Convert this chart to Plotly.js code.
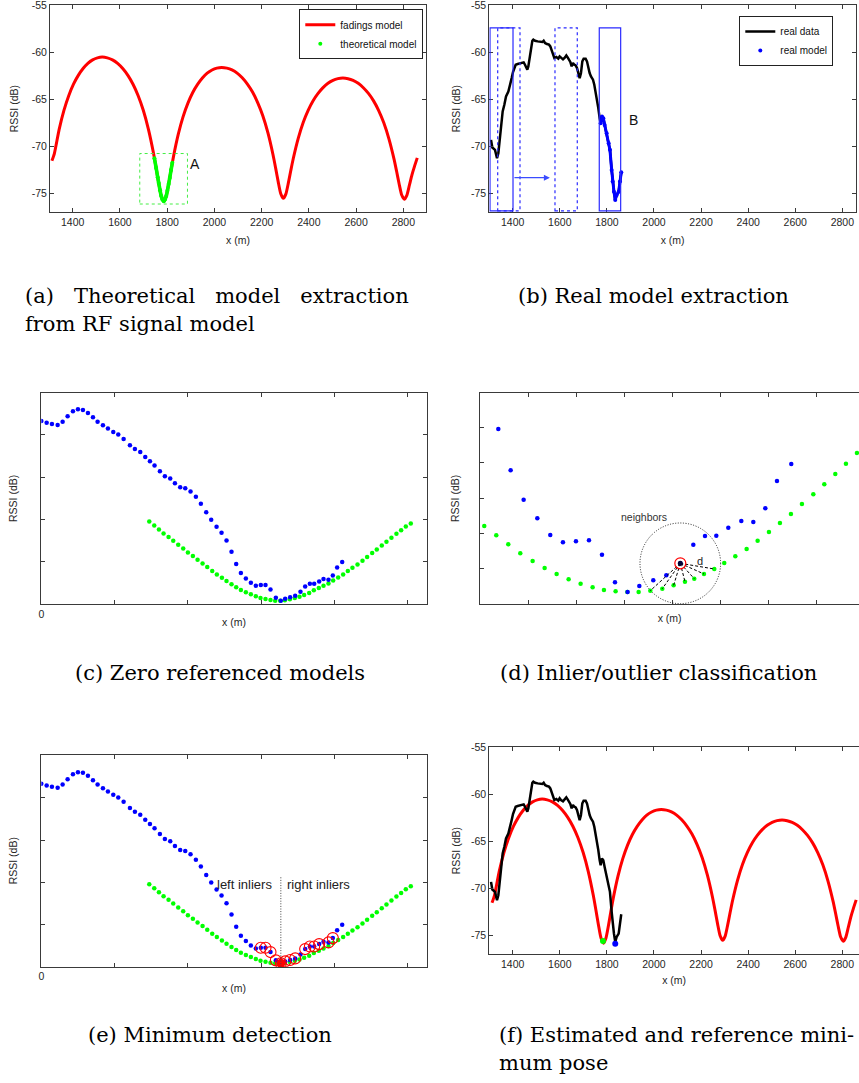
<!DOCTYPE html>
<html><head><meta charset="utf-8">
<script src="https://cdn.plot.ly/plotly-3.0.1.min.js"></script>
<style>html,body{margin:0;padding:0;background:#fff}#chart{width:859px;height:1083px}</style>
</head><body><div id="chart"></div>
<script>
// ---------- (a)/(f) fadings model (RF signal model) ----------
const fadingX = [1312,1322.5,1342.8,1363,1383.3,1403.5,1423.8,1444,1464.3,1484.5,1504.8,1525,1546.8,1568.5,1590.3,1612,1633.8,1655.5,1677.3,1699,1720.8,1742.5,1753.4,1764.3,1775.1,1786,1796.2,1806.4,1816.6,1826.8,1847.2,1867.6,1888,1908.4,1928.8,1949.2,1969.6,1990,2010.4,2031,2052.8,2074.5,2096.3,2118,2139.8,2161.5,2183.3,2205,2226.8,2248.5,2259.4,2270.3,2281.1,2292,2302.5,2313,2323.5,2334,2355,2376,2397,2418,2439,2460,2481,2502,2523,2544,2565.7,2587.3,2609,2630.7,2652.3,2674,2695.7,2717.3,2739,2760.7,2771.5,2782.3,2793.2,2804,2814.8,2825.7,2836.5,2847.3,2859];
const fadingY = [-71.5,-70.74,-68.17,-66.15,-64.6,-63.38,-62.44,-61.71,-61.16,-60.79,-60.58,-60.5,-60.58,-60.79,-61.16,-61.71,-62.44,-63.38,-64.6,-66.15,-68.17,-70.74,-72.27,-73.87,-75.26,-75.8,-75.25,-73.97,-72.48,-71.07,-68.69,-66.82,-65.39,-64.26,-63.4,-62.72,-62.21,-61.87,-61.67,-61.6,-61.67,-61.86,-62.2,-62.7,-63.37,-64.21,-65.33,-66.73,-68.56,-70.9,-72.29,-73.75,-75.01,-75.5,-75.05,-73.89,-72.55,-71.27,-69.13,-67.44,-66.15,-65.13,-64.35,-63.74,-63.28,-62.97,-62.79,-62.73,-62.79,-62.97,-63.28,-63.75,-64.36,-65.15,-66.18,-67.48,-69.18,-71.34,-72.63,-73.98,-75.15,-75.6,-75.18,-74.1,-73.0,-72.1,-71.2];
// theoretical model (extracted region A)
const theoX = [1746,1753.4,1760,1764.3,1770,1775.1,1780,1786,1791,1796.2,1801,1806.4,1811,1816.6,1822];
const theoY = [-71.24,-72.27,-73.26,-73.87,-74.65,-75.26,-75.63,-75.8,-75.61,-75.25,-74.69,-73.97,-73.34,-72.48,-71.72];
const boxA_X = [1684,1886];
const boxA_Y = [-76.1,-70.74];

// ---------- (b)/(f) real data ----------
const realX = [1307.9,1313.5,1324.8,1333.3,1339,1344.7,1350.3,1357.4,1364.5,1371.6,1381.5,1388.5,1395.6,1401.3,1406.9,1412.6,1421.1,1429.6,1438.1,1446.6,1452.2,1457.9,1462.1,1466.4,1472,1477.7,1483.4,1487.6,1494.7,1506,1517.3,1525.8,1531.5,1537.1,1545.6,1554.1,1559.8,1565.5,1571.1,1576.8,1585.3,1593.7,1599.4,1605.1,1613.6,1622.1,1627.7,1633.4,1639.1,1644.7,1650.4,1656,1661.7,1667.4,1673,1678.7,1684.4,1690,1695.7,1701.3,1709.8,1715.5,1721.1,1726.8,1732.5,1741,1746.6,1752.3,1757.9,1763.6,1769.3,1773.6,1779.2,1784.9,1790.5,1799,1807.6,1813.1,1820.3,1824.6,1830.1,1835.6,1841.6,1850.1,1855.6,1861.1];
const realY = [-69.29,-70.1,-70.35,-71.24,-70.71,-69.11,-67.69,-66.27,-65.56,-64.68,-64.15,-63.54,-62.73,-62.09,-61.59,-61.31,-61.24,-61.17,-61.1,-61.06,-61.31,-61.59,-61.84,-61.49,-60.6,-59.54,-58.76,-58.65,-58.76,-58.83,-58.9,-58.9,-58.76,-59.0,-59.11,-59.18,-59.36,-59.82,-60.32,-60.6,-60.49,-60.67,-60.42,-60.6,-60.74,-60.53,-60.32,-60.53,-60.74,-61.02,-61.49,-61.13,-61.31,-61.38,-61.66,-62.37,-62.73,-62.19,-60.95,-60.67,-60.67,-60.95,-61.66,-62.19,-62.55,-62.9,-63.44,-64.15,-65.03,-65.92,-66.98,-67.52,-66.81,-66.99,-67.7,-68.58,-69.65,-70.35,-72.48,-73.72,-74.79,-75.67,-75.14,-74.79,-73.72,-72.73];
const modelX = [1773.6,1779.2,1784.9,1790.5,1799,1807.6,1813.1,1820.3,1824.6,1830.1,1835.6,1841.6,1850.1,1855.6,1861.1];
const modelY = [-67.52,-66.81,-66.99,-67.7,-68.58,-69.65,-70.35,-72.48,-73.72,-74.79,-75.67,-75.14,-74.79,-73.72,-72.73];
// sliding windows in (b): [start, end]
const solidWindows = [[1303.6,1401.3],[1767.7,1858.6]];
const dottedWindows = [[1336.3,1431],[1579.6,1674.3]];
const windowY = [-76.84,-57.4];
const labelA = {x:1918, y:-71.8};
const labelB = {x:1912, y:-67.16};
const arrowB = {x0:1401, x1:1558, y:-73.3};

// (f) minima
const refMinX = [1783.4], refMinY = [-75.57];
const estMinX = [1835.6], estMinY = [-75.85];

// ---------- (c)/(e) zero referenced models ----------
const zBlueX = [0,.073,.145,.223,.291,.359,.432,.5,.568,.636,.705,.768,.841,.909,.982,1.05,1.123,1.209,1.277,1.35,1.418,1.482,1.545,1.618,1.686,1.759,1.823,1.895,1.964,2.036,2.109,2.177,2.25,2.318,2.391,2.459,2.527,2.595,2.659,2.723,2.791,2.859,2.927,2.995,3.059,3.127,3.2,3.268,3.327,3.395,3.464,3.536,3.6,3.664,3.723,3.791,3.85,3.918,3.977,4.036,4.105];
const zBlueY = [4.331,4.291,4.26,4.236,4.315,4.441,4.559,4.606,4.591,4.52,4.417,4.315,4.228,4.15,4.071,4.008,3.906,3.756,3.669,3.598,3.48,3.378,3.276,3.142,3.024,2.969,2.858,2.764,2.74,2.661,2.535,2.37,2.173,1.992,1.827,1.685,1.504,1.236,.945,.732,.606,.504,.433,.449,.449,.346,.15,.079,.126,.157,.197,.291,.417,.48,.48,.535,.591,.575,.677,.866,.992];
const zGreenX = [1.473,1.541,1.605,1.668,1.736,1.8,1.868,1.936,2,2.068,2.132,2.2,2.264,2.332,2.395,2.464,2.527,2.595,2.659,2.723,2.791,2.859,2.927,2.991,3.059,3.127,3.191,3.259,3.323,3.391,3.459,3.523,3.586,3.655,3.718,3.786,3.85,3.918,3.982,4.05,4.118,4.182,4.245,4.314,4.382,4.445,4.514,4.577,4.645,4.709,4.777,4.845,4.909,4.973,5.041];
const zGreenY = [1.953,1.858,1.764,1.669,1.583,1.496,1.402,1.315,1.22,1.134,1.047,.961,.874,.78,.701,.622,.543,.465,.394,.331,.276,.228,.181,.142,.118,.094,.079,.079,.087,.11,.142,.173,.213,.26,.323,.378,.433,.488,.559,.63,.701,.78,.858,.937,1.024,1.11,1.205,1.291,1.386,1.472,1.567,1.661,1.748,1.835,1.906];
const inlierIdx = [43,44,45,46,47,48,49,50,52,53,54,55,57,58];
const minIdx = 47;
const splitTop = 2.14;
const inlierLabelY = 1.95;

// ---------- (d) inlier/outlier classification ----------
const dBlueX = [.375,.632,.903,1.188,1.458,1.722,1.993,2.264,2.535,2.806,3.069,3.313,3.604,3.875,4.167,4.438,4.681,4.917,5.167,5.438,5.688,5.938,6.181,6.479];
const dBlueY = [4.953,3.783,2.953,2.425,1.953,1.745,1.774,1.802,1.396,.613,.34,.509,.67,.811,1.151,1.679,1.925,1.934,2.16,2.349,2.321,2.708,3.481,3.962];
const dGreenX = [.083,.333,.583,.833,1.09,1.34,1.59,1.84,2.09,2.34,2.576,2.819,3.063,3.299,3.542,3.792,4.028,4.264,4.458,4.66,4.875,5.083,5.313,5.549,5.778,6.014,6.243,6.472,6.701,6.938,7.167,7.396,7.618,7.847];
const dGreenY = [2.208,1.943,1.689,1.434,1.217,1.019,.849,.698,.575,.472,.396,.358,.34,.34,.377,.434,.528,.632,.717,.849,.991,1.16,1.349,1.557,1.792,2.038,2.292,2.547,2.83,3.104,3.387,3.679,3.972,4.274];
const centerIdx = 14;
const neighborIdx = [14,15,16,17,18,19,20];
const neighborRadius = {x:.84, y:1.142};
const neighborsLabel = {x:3.417, y:2.462};
const dLabel = {x:4.576, y:1.226};

// ---------- tick labels ----------
const xTickVals = [1400,1600,1800,2000,2200,2400,2600,2800];
const xTickText = ['1400','1600','1800','2000','2200','2400','2600','2800'];
const yTickVals = [-75,-70,-65,-60,-55];
const yTickText = ['-75','-70','-65','-60','-55'];
const zXTickVals = [0,1,2,3,4,5];
const zXTickText = ['0','','','','',''];
const zYTickVals = [1,2,3,4];
const dXTickVals = [1,2,3,4,5,6,7];
const dYTickVals = [1,2,3,4,5];

const RED='#ff0000', GREEN='#00ff00', BLUE='#0000ff';
const SANS='Liberation Sans, Arial, sans-serif';
const tickFont={family:SANS,size:10.5,color:'#262626'};
const titleFont={family:SANS,size:10.5,color:'#262626'};
const base={showline:true,linecolor:'#3a3a3a',linewidth:1,ticks:'inside',ticklen:4,tickwidth:1,tickcolor:'#3a3a3a',showgrid:false,zeroline:false,tickfont:tickFont,fixedrange:true,ticklabeloverflow:'allow'};

const traces=[];
// (a)
traces.push({x:fadingX,y:fadingY,xaxis:'x',yaxis:'y',type:'scatter',mode:'lines',name:'fadings model',legend:'legend',line:{color:RED,width:3,shape:'spline',smoothing:0.6}});
traces.push({x:theoX,y:theoY,xaxis:'x',yaxis:'y',type:'scatter',mode:'lines',showlegend:false,line:{color:GREEN,width:3.6,shape:'spline',smoothing:0.6},hoverinfo:'skip'});
traces.push({x:theoX,y:theoY,xaxis:'x',yaxis:'y',type:'scatter',mode:'markers',name:'theoretical model',legend:'legend',marker:{color:GREEN,size:4}});
// (b)
traces.push({x:realX,y:realY,xaxis:'x2',yaxis:'y2',type:'scatter',mode:'lines',name:'real data',legend:'legend2',line:{color:'#000',width:2.5}});
traces.push({x:modelX,y:modelY,xaxis:'x2',yaxis:'y2',type:'scatter',mode:'lines',showlegend:false,line:{color:BLUE,width:3},hoverinfo:'skip'});
traces.push({x:modelX,y:modelY,xaxis:'x2',yaxis:'y2',type:'scatter',mode:'markers',name:'real model',legend:'legend2',marker:{color:BLUE,size:4}});
// (c)
traces.push({x:zGreenX,y:zGreenY,xaxis:'x3',yaxis:'y3',type:'scatter',mode:'markers',showlegend:false,marker:{color:GREEN,size:4.5}});
traces.push({x:zBlueX,y:zBlueY,xaxis:'x3',yaxis:'y3',type:'scatter',mode:'markers',showlegend:false,marker:{color:BLUE,size:4.5}});
// (d)
traces.push({x:dGreenX,y:dGreenY,xaxis:'x4',yaxis:'y4',type:'scatter',mode:'markers',showlegend:false,marker:{color:GREEN,size:4.5}});
traces.push({x:dBlueX,y:dBlueY,xaxis:'x4',yaxis:'y4',type:'scatter',mode:'markers',showlegend:false,marker:{color:BLUE,size:4.5}});
const nx=[],ny=[];
neighborIdx.forEach(i=>{nx.push(dBlueX[centerIdx],dGreenX[i],null);ny.push(dBlueY[centerIdx],dGreenY[i],null);});
traces.push({x:nx,y:ny,xaxis:'x4',yaxis:'y4',type:'scatter',mode:'lines',showlegend:false,line:{color:'#000',width:1,dash:'3px,2px'}});
traces.push({x:[dBlueX[centerIdx]],y:[dBlueY[centerIdx]],xaxis:'x4',yaxis:'y4',type:'scatter',mode:'markers',showlegend:false,marker:{color:'#000033',size:5}});
traces.push({x:[dBlueX[centerIdx]],y:[dBlueY[centerIdx]],xaxis:'x4',yaxis:'y4',type:'scatter',mode:'markers',showlegend:false,marker:{symbol:'circle-open',color:RED,size:11,line:{width:1.2}}});
// (e)
traces.push({x:zGreenX,y:zGreenY,xaxis:'x5',yaxis:'y5',type:'scatter',mode:'markers',showlegend:false,marker:{color:GREEN,size:4.5}});
traces.push({x:zBlueX,y:zBlueY,xaxis:'x5',yaxis:'y5',type:'scatter',mode:'markers',showlegend:false,marker:{color:BLUE,size:4.5}});
traces.push({x:inlierIdx.map(i=>zBlueX[i]),y:inlierIdx.map(i=>zBlueY[i]),xaxis:'x5',yaxis:'y5',type:'scatter',mode:'markers',showlegend:false,marker:{symbol:'circle-open',color:RED,size:11,line:{width:1.1}}});
traces.push({x:[zBlueX[minIdx]],y:[zBlueY[minIdx]],xaxis:'x5',yaxis:'y5',type:'scatter',mode:'markers',showlegend:false,marker:{color:RED,size:9},cliponaxis:false});
// (f)
traces.push({x:fadingX,y:fadingY,xaxis:'x6',yaxis:'y6',type:'scatter',mode:'lines',showlegend:false,line:{color:RED,width:3,shape:'spline',smoothing:0.6}});
traces.push({x:realX,y:realY,xaxis:'x6',yaxis:'y6',type:'scatter',mode:'lines',showlegend:false,line:{color:'#000',width:2.5}});
traces.push({x:refMinX,y:refMinY,xaxis:'x6',yaxis:'y6',type:'scatter',mode:'markers',showlegend:false,marker:{color:GREEN,size:6}});
traces.push({x:estMinX,y:estMinY,xaxis:'x6',yaxis:'y6',type:'scatter',mode:'markers',showlegend:false,marker:{color:BLUE,size:6}});

const W=859,H=1083;
const px=v=>v/W, py=v=>1-v/H;
const domA_y=[py(212),py(5.3)], domC_y=[py(604),py(392.7)], domE_y=[py(966.7),py(754.7)], domF_y=[py(954),py(747.3)];
const domL=[px(50),px(426)], domR=[px(489.3),px(856)], domCL=[px(41.3),px(426.7)], domDR=[px(480.3),1], domFR=[px(489.3),1];
const rssiTitle=(s)=>({text:'RSSI (dB)',font:titleFont,standoff:s});
const xmTitle=(s)=>({text:'x (m)',font:titleFont,standoff:s});

const shapes=[];
shapes.push({type:'rect',xref:'x',yref:'y',x0:boxA_X[0],x1:boxA_X[1],y0:boxA_Y[0],y1:boxA_Y[1],line:{color:'#44ee44',width:1,dash:'dot'}});
solidWindows.forEach(w=>shapes.push({type:'rect',xref:'x2',yref:'y2',x0:w[0],x1:w[1],y0:windowY[0],y1:windowY[1],line:{color:'#2a2aff',width:1.2}}));
dottedWindows.forEach(w=>shapes.push({type:'rect',xref:'x2',yref:'y2',x0:w[0],x1:w[1],y0:windowY[0],y1:windowY[1],line:{color:'#2a2aff',width:1.2,dash:'dot'}}));
const cx=dBlueX[centerIdx], cy=dBlueY[centerIdx];
shapes.push({type:'circle',xref:'x4',yref:'y4',x0:cx-neighborRadius.x,x1:cx+neighborRadius.x,y0:cy-neighborRadius.y,y1:cy+neighborRadius.y,line:{color:'#222',width:1,dash:'1px,1.6px'}});
shapes.push({type:'line',xref:'x5',yref:'y5',x0:zBlueX[minIdx],x1:zBlueX[minIdx],y0:0,y1:splitTop,line:{color:'#444',width:1,dash:'1px,1.6px'}});

const capFont={family:'DejaVu Serif, serif',size:21,color:'#000'};
const nb='\u00a0';
const ann=[];
const cap=(t,x,y,xa)=>ann.push({xref:'paper',yref:'paper',x:x,y:y,text:t,showarrow:false,xanchor:xa,yanchor:'middle',font:capFont});
cap('(a)'+nb+nb+nb+'Theoretical'+nb+nb+nb+'model'+nb+nb+nb+'extraction',px(23),py(296),'left');
cap('from RF signal model',px(23),py(324),'left');
cap('(b) Real model extraction',px(653),py(296),'center');
cap('(c) Zero referenced models',px(220),py(673),'center');
cap('(d) Inlier/outlier classification',px(658.5),py(673),'center');
cap('(e) Minimum detection',px(210),py(1035),'center');
cap('(f) Estimated and reference mini-',px(497),py(1035),'left');
cap('mum pose',px(497),py(1063),'left');
ann.push({xref:'x',yref:'y',x:labelA.x,y:labelA.y,text:'A',showarrow:false,font:{family:SANS,size:14,color:'#111'}});
ann.push({xref:'x2',yref:'y2',x:labelB.x,y:labelB.y,text:'B',showarrow:false,font:{family:SANS,size:14,color:'#111'}});
ann.push({xref:'x2',yref:'y2',axref:'x2',ayref:'y2',x:arrowB.x1,y:arrowB.y,ax:arrowB.x0,ay:arrowB.y,text:'',showarrow:true,arrowhead:2,arrowsize:1,arrowwidth:1.2,arrowcolor:'#3a4cff'});
ann.push({xref:'x4',yref:'y4',x:neighborsLabel.x,y:neighborsLabel.y,text:'neighbors',showarrow:false,font:{family:SANS,size:10.5,color:'#333'}});
ann.push({xref:'x4',yref:'y4',x:dLabel.x,y:dLabel.y,text:'d',showarrow:false,font:{family:SANS,size:11,color:'#222'}});
ann.push({xref:'x5',yref:'y5',x:zBlueX[minIdx]-0.09,y:inlierLabelY,text:'left inliers',xanchor:'right',showarrow:false,font:{family:SANS,size:13,color:'#222'}});
ann.push({xref:'x5',yref:'y5',x:zBlueX[minIdx]+0.06,y:inlierLabelY,text:'right inliers',xanchor:'left',showarrow:false,font:{family:SANS,size:13,color:'#222'}});

const legendStyle={xanchor:'left',yanchor:'top',bgcolor:'#ffffff',bordercolor:'#222',borderwidth:1,font:{family:SANS,size:10,color:'#111'},tracegroupgap:0,itemwidth:30};

const layout={
  width:W,height:H,margin:{l:0,r:0,t:0,b:0},paper_bgcolor:'#fff',plot_bgcolor:'#fff',showlegend:true,
  legend:Object.assign({x:px(299.3),y:py(9.3)},legendStyle),
  legend2:Object.assign({x:px(739.3),y:py(16)},legendStyle),
  xaxis:Object.assign({},base,{domain:domL,range:[1304,2896],anchor:'y',mirror:'ticks',tickvals:xTickVals,ticktext:xTickText,title:xmTitle(10)}),
  yaxis:Object.assign({},base,{domain:domA_y,range:[-76.95,-55],anchor:'x',mirror:'ticks',tickvals:yTickVals,ticktext:yTickText,title:rssiTitle(11)}),
  xaxis2:Object.assign({},base,{domain:domR,range:[1300.6,2858.2],anchor:'y2',mirror:'ticks',tickvals:xTickVals,ticktext:xTickText,title:xmTitle(10)}),
  yaxis2:Object.assign({},base,{domain:domA_y,range:[-76.95,-55],anchor:'x2',mirror:'ticks',tickvals:yTickVals,ticktext:yTickText,title:rssiTitle(7.5)}),
  xaxis3:Object.assign({},base,{domain:domCL,range:[0,5.258],anchor:'y3',mirror:'ticks',tickvals:zXTickVals,ticktext:zXTickText,title:xmTitle(0)}),
  yaxis3:Object.assign({},base,{domain:domC_y,range:[0,5],anchor:'x3',mirror:'ticks',tickvals:zYTickVals,showticklabels:false,title:rssiTitle(20)}),
  xaxis4:Object.assign({},base,{domain:domDR,range:[0,7.89],anchor:'y4',mirror:'ticks',tickvals:dXTickVals,showticklabels:false,title:xmTitle(10)}),
  yaxis4:Object.assign({},base,{domain:domC_y,range:[0,5.98],anchor:'x4',mirror:false,tickvals:dYTickVals,showticklabels:false,title:rssiTitle(17)}),
  xaxis5:Object.assign({},base,{domain:domCL,range:[0,5.258],anchor:'y5',mirror:'ticks',tickvals:zXTickVals,ticktext:zXTickText,title:xmTitle(3)}),
  yaxis5:Object.assign({},base,{domain:domE_y,range:[0,5.02],anchor:'x5',mirror:'ticks',tickvals:zYTickVals,showticklabels:false,title:rssiTitle(20)}),
  xaxis6:Object.assign({},base,{domain:domFR,range:[1300.6,2871],anchor:'y6',mirror:'ticks',tickvals:xTickVals,ticktext:xTickText,title:xmTitle(8)}),
  yaxis6:Object.assign({},base,{domain:domF_y,range:[-76.95,-55],anchor:'x6',mirror:false,tickvals:yTickVals,ticktext:yTickText,title:rssiTitle(7.5)}),
  shapes:shapes,annotations:ann
};
Plotly.newPlot('chart',traces,layout,{displayModeBar:false,staticPlot:true});
</script></body></html>
